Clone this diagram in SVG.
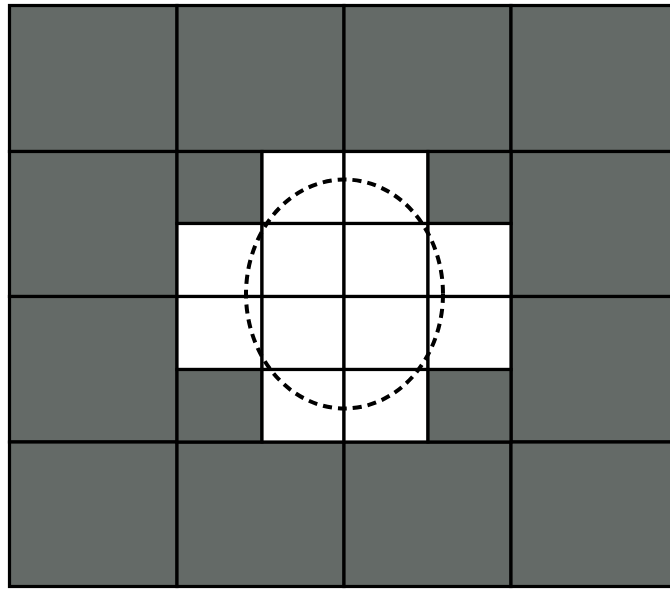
<svg xmlns="http://www.w3.org/2000/svg" width="670" height="590" viewBox="0 0 670 590">
<style>
.cell{fill:#646a67;stroke:#000;stroke-width:3.2}
.w{fill:#fff;stroke:#000;stroke-width:3.2}
.g{fill:#646a67;stroke:#000;stroke-width:3.2}
.circ{fill:none;stroke:#000;stroke-width:4;stroke-dasharray:9 6}
</style>
<rect width="670" height="590" fill="#fff"/>
<g id="outer">
<rect class="cell" x="9.5" y="5.5" width="167.5" height="146"/>
<rect class="cell" x="177" y="5.5" width="167" height="146"/>
<rect class="cell" x="344" y="5.5" width="167" height="146"/>
<rect class="cell" x="511" y="5.5" width="167" height="146"/>
<rect class="cell" x="9.5" y="151.5" width="167.5" height="145"/>
<rect class="cell" x="511" y="151.5" width="167" height="145"/>
<rect class="cell" x="9.5" y="296.5" width="167.5" height="145.5"/>
<rect class="cell" x="511" y="296.5" width="167" height="145.5"/>
<rect class="cell" x="9.5" y="442" width="167.5" height="144.5"/>
<rect class="cell" x="177" y="442" width="167" height="144.5"/>
<rect class="cell" x="344" y="442" width="167" height="144.5"/>
<rect class="cell" x="511" y="442" width="167" height="144.5"/>
</g>
<g id="inner">
<rect class="g" x="177" y="151.5" width="85" height="72"/>
<rect class="w" x="262" y="151.5" width="82" height="72"/>
<rect class="w" x="344" y="151.5" width="84" height="72"/>
<rect class="g" x="428" y="151.5" width="83" height="72"/>
<rect class="w" x="177" y="223.5" width="85" height="73"/>
<rect class="w" x="262" y="223.5" width="82" height="73"/>
<rect class="w" x="344" y="223.5" width="84" height="73"/>
<rect class="w" x="428" y="223.5" width="83" height="73"/>
<rect class="w" x="177" y="296.5" width="85" height="73"/>
<rect class="w" x="262" y="296.5" width="82" height="73"/>
<rect class="w" x="344" y="296.5" width="84" height="73"/>
<rect class="w" x="428" y="296.5" width="83" height="73"/>
<rect class="g" x="177" y="369.5" width="85" height="72.5"/>
<rect class="w" x="262" y="369.5" width="82" height="72.5"/>
<rect class="w" x="344" y="369.5" width="84" height="72.5"/>
<rect class="g" x="428" y="369.5" width="83" height="72.5"/>
</g>
<g id="circle">
<ellipse class="circ" cx="344.5" cy="294" rx="98.5" ry="114.5"/>
</g>
</svg>
